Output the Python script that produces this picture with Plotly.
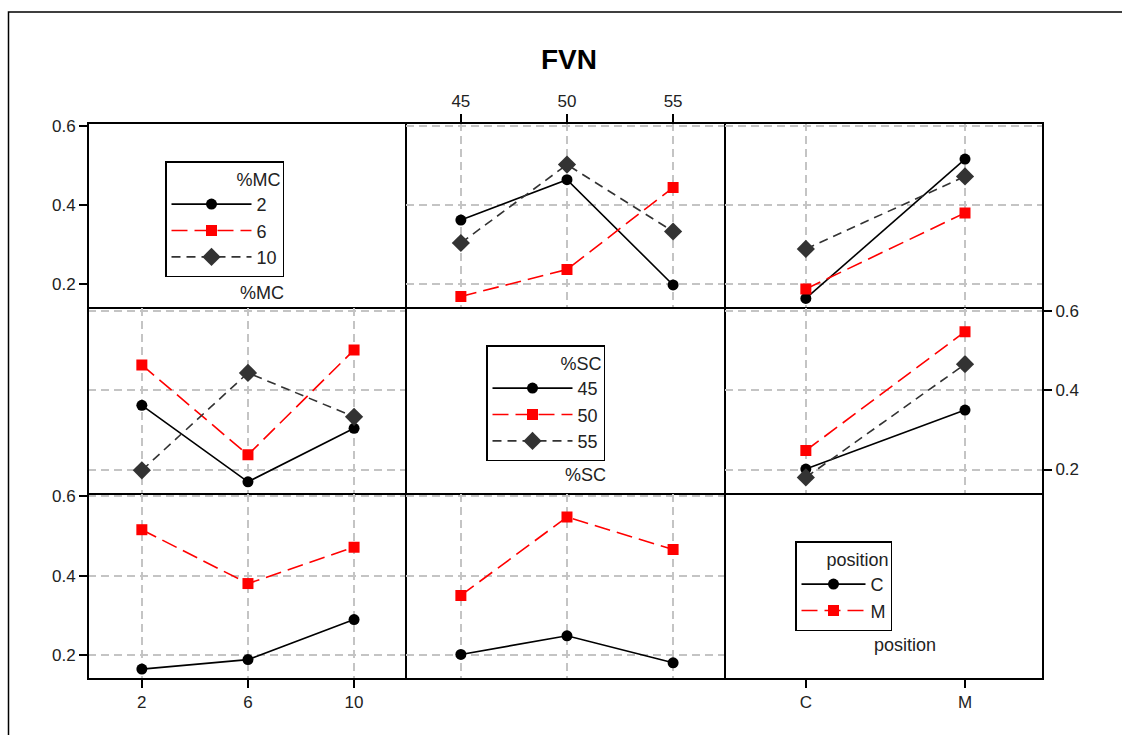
import plotly.graph_objects as go
from plotly.subplots import make_subplots

# ---------------- data ----------------
mc_levels = [2, 6, 10]
sc_levels = [45, 50, 55]
positions = ["C", "M"]

# FVN means, %MC x %SC (each list indexed by %SC 45, 50, 55)
fvn_mc2_by_sc = [0.362, 0.464, 0.198]
fvn_mc6_by_sc = [0.169, 0.237, 0.444]
fvn_mc10_by_sc = [0.304, 0.502, 0.333]
# FVN means, position x %MC (indexed by %MC 2, 6, 10)
fvn_c_by_mc = [0.164, 0.188, 0.289]
fvn_m_by_mc = [0.516, 0.380, 0.472]
# FVN means, position x %SC (indexed by %SC 45, 50, 55)
fvn_c_by_sc = [0.201, 0.248, 0.180]
fvn_m_by_sc = [0.350, 0.548, 0.466]

y_ticks = [0.2, 0.4, 0.6]
title_text = "FVN"

# ---------------- styling ----------------
FONT = "Liberation Sans, Arial, sans-serif"
TXT = "#222222"
GRID = "#c4c4c4"
styles = [
    dict(color="#000000", dash="solid", symbol="circle", size=11),
    dict(color="#ff0000", dash="16px,7px", symbol="square", size=11),
    dict(color="#333333", dash="9px,6px", symbol="diamond", size=14),
]

fig = make_subplots(rows=3, cols=3, horizontal_spacing=0, vertical_spacing=0)


def add(row, col, x, y, name, st, legend, show):
    fig.add_trace(
        go.Scatter(
            x=x, y=y, name=name, mode="lines+markers",
            line=dict(color=st["color"], dash=st["dash"], width=1.6),
            marker=dict(symbol=st["symbol"], size=st["size"], color=st["color"]),
            legend=legend, showlegend=show,
        ),
        row=row, col=col,
    )


mc_series = [fvn_mc2_by_sc, fvn_mc6_by_sc, fvn_mc10_by_sc]
mc_pos = [[fvn_c_by_mc[i], fvn_m_by_mc[i]] for i in range(3)]
# Row 1: traces = %MC
for i, lvl in enumerate(mc_levels):
    add(1, 2, sc_levels, mc_series[i], str(lvl), styles[i], "legend", True)
for i, lvl in enumerate(mc_levels):
    add(1, 3, positions, mc_pos[i], str(lvl), styles[i], "legend", False)

# Row 2: traces = %SC
sc_by_mc = [[mc_series[m][j] for m in range(3)] for j in range(3)]
sc_pos = [[fvn_c_by_sc[j], fvn_m_by_sc[j]] for j in range(3)]
for j, lvl in enumerate(sc_levels):
    add(2, 1, mc_levels, sc_by_mc[j], str(lvl), styles[j], "legend2", True)
for j, lvl in enumerate(sc_levels):
    add(2, 3, positions, sc_pos[j], str(lvl), styles[j], "legend2", False)

# Row 3: traces = position
pos_by_mc = [fvn_c_by_mc, fvn_m_by_mc]
pos_by_sc = [fvn_c_by_sc, fvn_m_by_sc]
for k, p in enumerate(positions):
    add(3, 1, mc_levels, pos_by_mc[k], p, styles[k], "legend3", True)
for k, p in enumerate(positions):
    add(3, 2, sc_levels, pos_by_sc[k], p, styles[k], "legend3", False)

# empty placeholder traces so the diagonal (legend) panels keep their axes
x_levels = {1: mc_levels, 2: sc_levels, 3: positions}
for d in range(1, 4):
    fig.add_trace(go.Scatter(x=x_levels[d], y=[None] * len(x_levels[d]), mode="markers",
                             showlegend=False, hoverinfo="skip"), row=d, col=d)

# ---------------- axes ----------------
x_ranges = {1: [-0.03, 11.97], 2: [42.43, 57.43], 3: [-0.51, 1.49]}
y_range = [0.139, 0.607]

base = dict(showline=True, linecolor="black", linewidth=1, mirror=True,
            zeroline=False, gridcolor=GRID, gridwidth=1.6, griddash="8px,5px",
            tickfont=dict(family=FONT, size=17, color=TXT), ticklen=8,
            tickcolor="black", tickwidth=1.5)

for r in range(1, 4):
    for c in range(1, 4):
        diag = (r == c)
        xa = dict(base, range=x_ranges[c], tickvals=x_levels[c], showgrid=not diag,
                  ticks="", showticklabels=False)
        if c == 3:
            xa.update(type="category", categoryorder="array", categoryarray=positions)
        else:
            xa["type"] = "linear"
        if (r == 3 and c in (1, 3)):
            xa.update(ticks="outside", showticklabels=True, side="bottom")
        if r == 1 and c == 2:
            xa.update(ticks="outside", showticklabels=True, side="top")
        ya = dict(base, range=y_range, tickvals=y_ticks, showgrid=not diag,
                  ticks="", showticklabels=False, tickformat=".1f")
        if c == 1 and r in (1, 3):
            ya.update(ticks="outside", showticklabels=True, side="left")
        if c == 3 and r == 2:
            ya.update(ticks="outside", showticklabels=True, side="right")
        fig.update_xaxes(xa, row=r, col=c)
        fig.update_yaxes(ya, row=r, col=c)

# ---------------- legends ----------------
L, T, W, H = 88, 123, 955, 556


def px(xp):
    return (xp - L) / W


def py(yp):
    return (T + H - yp) / H


leg_common = dict(bgcolor="white", bordercolor="black", borderwidth=1.5,
                  font=dict(family=FONT, size=18, color=TXT),
                  xanchor="left", yanchor="top", tracegroupgap=0,
                  xref="paper", yref="paper")

fig.update_layout(
    legend=dict(leg_common, x=px(165), y=py(161), itemwidth=80,
                title=dict(text="%MC", side="top right", font=dict(family=FONT, size=18, color=TXT))),
    legend2=dict(leg_common, x=px(486), y=py(345), itemwidth=80,
                 title=dict(text="%SC", side="top right", font=dict(family=FONT, size=18, color=TXT))),
    legend3=dict(leg_common, x=px(795), y=py(541), itemwidth=64,
                 title=dict(text="position", side="top right", font=dict(family=FONT, size=18, color=TXT))),
)

annos = [
    dict(text="%MC", x=px(262), y=py(293)),
    dict(text="%SC", x=px(585), y=py(475)),
    dict(text="position", x=px(905), y=py(645)),
]
for a in annos:
    fig.add_annotation(a, xref="paper", yref="paper", showarrow=False,
                       xanchor="center", yanchor="middle",
                       font=dict(family=FONT, size=18, color=TXT))

fig.add_annotation(text="<b>" + title_text + "</b>", x=px(569), y=py(59), xref="paper", yref="paper",
                   showarrow=False, xanchor="center", yanchor="middle",
                   font=dict(family=FONT, size=28, color="black"))

# frame round the whole panel grid
fig.add_shape(type="rect", xref="paper", yref="paper", x0=0, x1=1, y0=0, y1=1,
              line=dict(color="black", width=2), fillcolor="rgba(0,0,0,0)")

# outer frame
fig.add_shape(type="rect", xref="paper", yref="paper",
              x0=px(8.5), x1=px(1140), y0=py(750), y1=py(12),
              line=dict(color="black", width=1.5), fillcolor="rgba(0,0,0,0)", layer="below")

fig.update_layout(
    width=1122, height=735,
    margin=dict(l=L, r=1122 - L - W, t=T, b=735 - T - H),
    paper_bgcolor="white", plot_bgcolor="white",
    font=dict(family=FONT, color=TXT),
)

fig.write_html("out.html")
